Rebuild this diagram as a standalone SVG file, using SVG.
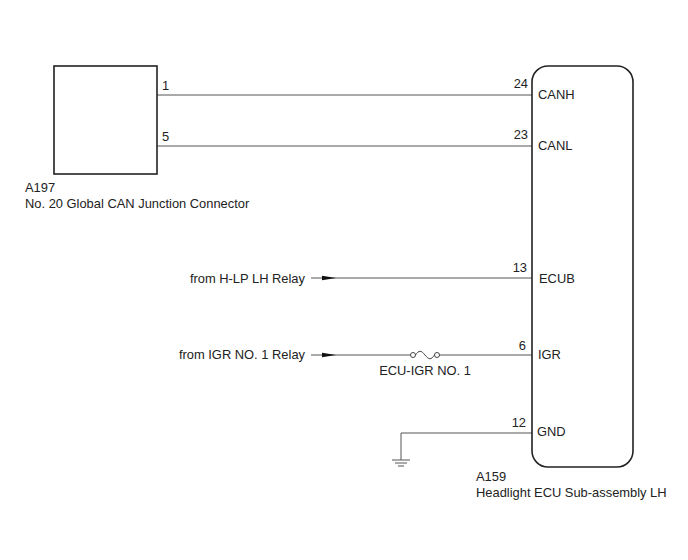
<svg xmlns="http://www.w3.org/2000/svg" width="688" height="560" viewBox="0 0 688 560">
<defs>
<style>
text{font-family:"Liberation Sans",Arial,sans-serif;font-size:12.9px;fill:#222}
.w{stroke:#555;stroke-width:1;fill:none}
.b{stroke:#222;stroke-width:1.6;fill:none}
.e{text-anchor:end}
.m{text-anchor:middle}
</style>
<marker id="arr" viewBox="0 0 14 6" refX="14" refY="3" markerWidth="14" markerHeight="6" markerUnits="userSpaceOnUse" orient="auto">
<path d="M0,0.8 L14,3 L0,5.2 Z" fill="#111"/>
</marker>
</defs>
<rect width="688" height="560" fill="#fff"/>
<g id="connectors">
<line class="w" x1="157" y1="95" x2="532" y2="95"/>
<line class="w" x1="157" y1="146" x2="532" y2="146"/>
<line class="w" x1="311" y1="278" x2="336" y2="278" marker-end="url(#arr)"/>
<line class="w" x1="336" y1="278" x2="532" y2="278"/>
<line class="w" x1="311" y1="355" x2="336" y2="355" marker-end="url(#arr)"/>
<line class="w" x1="336" y1="355" x2="411" y2="355"/>
<line class="w" x1="439" y1="355" x2="532" y2="355"/>
<polyline class="w" points="532,433 401,433 401,460"/>
</g>
<g id="fuse">
<circle cx="413" cy="355" r="2.5" fill="#fff" stroke="#444" stroke-width="1"/>
<circle cx="437" cy="355" r="2.5" fill="#fff" stroke="#444" stroke-width="1"/>
<path d="M415.5,355 C419,350 421,350 425,355 C429,360 431,360 434.5,355" fill="none" stroke="#444" stroke-width="1"/>
<text class="m" x="425" y="375">ECU-IGR NO. 1</text>
</g>
<g id="ground">
<line class="w" x1="392" y1="460" x2="410" y2="460"/>
<line class="w" x1="395" y1="463" x2="407" y2="463"/>
<line class="w" x1="398" y1="466" x2="404" y2="466"/>
</g>
<g id="A197">
<rect class="b" x="54" y="66" width="103" height="108"/>
<text x="162" y="90">1</text>
<text x="162" y="141">5</text>
<text x="25" y="192">A197</text>
<text x="25" y="208">No. 20 Global CAN Junction Connector</text>
</g>
<g id="A159">
<rect class="b" x="532" y="66" width="101" height="401" rx="16" ry="16"/>
<text class="e" x="528" y="88">24</text>
<text x="538" y="99">CANH</text>
<text class="e" x="528" y="139">23</text>
<text x="538" y="150">CANL</text>
<text class="e" x="527" y="272">13</text>
<text x="539" y="283">ECUB</text>
<text class="e" x="526" y="350">6</text>
<text x="538" y="359">IGR</text>
<text class="e" x="526" y="427">12</text>
<text x="537" y="436">GND</text>
<text x="476" y="481">A159</text>
<text x="476" y="497">Headlight ECU Sub-assembly LH</text>
</g>
<g id="sources">
<text class="e" x="305" y="283">from H-LP LH Relay</text>
<text class="e" x="305" y="359">from IGR NO. 1 Relay</text>
</g>
</svg>
